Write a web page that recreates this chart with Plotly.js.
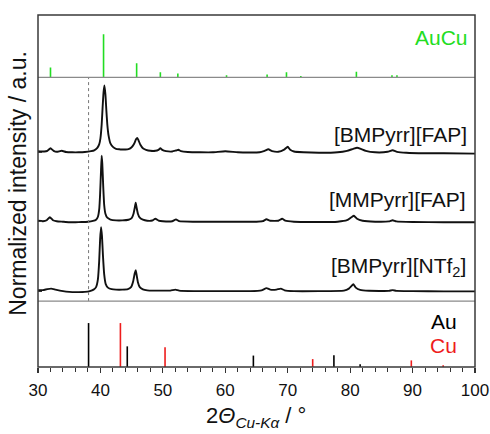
<!DOCTYPE html>
<html>
<head>
<meta charset="utf-8">
<script src="https://cdn.plot.ly/plotly-3.0.1.min.js"></script>
<style>html,body{margin:0;padding:0;background:#fff;}#chart{width:490px;height:434px;}</style>
</head>
<body>
<div id="chart"></div>
<script>
// ---------- reference patterns (stick positions, relative intensities) ----------
const aucuPos = [32.0, 40.5, 45.8, 49.6, 52.4, 60.2, 66.7, 69.8, 72.1, 81.0, 86.7, 87.5];
const aucuInt = [23, 100, 33, 12, 9, 5, 7, 12, 3, 13, 5, 5];
const auPos = [38.1, 44.3, 64.5, 77.4, 81.6];
const auInt = [100, 47, 26, 27, 6];
const cuPos = [43.2, 50.35, 74.0, 89.8, 94.9];
const cuInt = [100, 45, 18, 15, 4];

// ---------- measured patterns ----------
const sampleNames = ['[BMPyrr][FAP]', '[MMPyrr][FAP]', '[BMPyrr][NTf<sub>2</sub>]'];
const xTitle = '2<i>Θ</i><sub><i>Cu-Kα</i></sub> / °';
const yTitle = 'Normalized intensity / a.u.';

const tt_BFAP = [30.0,30.5,31.0,31.5,32.0,32.5,33.0,33.8,34.5,35.5,36.5,37.5,38.5,39.0,39.5,39.8,40.0,40.2,40.35,40.5,40.64,40.8,40.95,41.1,41.3,41.6,42.0,42.5,43.0,43.5,44.0,44.5,45.0,45.4,45.7,45.9,46.1,46.4,46.8,47.3,48.0,48.8,49.3,49.6,49.9,50.5,51.5,52.1,52.5,52.9,54,56,58,60,62,64,65.5,66.3,66.9,67.5,68.5,69.5,70.0,70.4,71.0,72.5,75,78,79.5,80.5,81.1,81.7,82.5,84,86.0,86.8,87.5,89,92,95,100];
const int_BFAP = [1.0,0.8,0.8,1.5,4.0,1.5,0.5,1.5,0.3,0,0,0.3,1.2,2.0,4.5,8,14,28,45,60,67,58,42,28,17,9,5.5,3.5,3,2.8,2.8,3.2,5,8.5,13,14.5,12,7.5,4,2.5,1.5,1.5,2.5,4,2.5,1.2,0.8,1.8,2.5,1.2,0.3,0,0,1,0,-0.2,0,1.5,3,1.2,0.5,3,5.5,2.5,0.8,0,-0.5,0,1.5,3.5,4.5,3.5,1.5,0,0.5,2,0.5,-0.5,-1,-1,-1.3];

const tt_MFAP = [30.0,30.8,31.4,31.9,32.4,33.0,34,35,36,37,38,38.8,39.3,39.6,39.8,39.95,40.1,40.2,40.3,40.45,40.6,40.8,41.1,41.6,42.5,43.5,44.5,45.0,45.3,45.5,45.65,45.8,46.0,46.3,46.8,47.5,48.3,48.8,49.3,50,51.5,52.1,52.6,55,60,65,66.0,66.6,67.2,68.5,69.1,69.6,71,74,78,79.5,80.2,80.6,81.1,82,84,86.2,86.8,87.4,90,95,100];
const int_MFAP = [1,0.5,1.5,4.5,1.5,0.5,0,-0.5,-0.5,-0.3,0,0.8,2,5,12,28,52,66,58,35,17,8,4,2.2,1.3,1.3,2,3.5,8,14,19,14,8,4,2,1,1.2,3,1.2,0.5,0.5,2.3,0.5,0,0,0,0.5,2.5,1,1,3,1,0,-0.3,0,1.5,4.5,6,3,1,0,0.3,1.5,0.3,-0.3,-0.5,-0.5];

const tt_BNTf2 = [30,30.8,31.5,32.1,32.8,33.5,34.5,35.5,36.5,37.5,38.3,38.9,39.3,39.6,39.8,39.95,40.1,40.25,40.4,40.6,40.85,41.2,41.8,42.5,43.5,44.4,44.9,45.25,45.5,45.65,45.8,46.0,46.3,46.8,47.5,48.5,49.5,51.2,52.0,52.6,55,60,64,65.8,66.6,67.2,68.2,68.9,69.5,71,75,79,79.8,80.2,80.5,80.9,81.6,83,86.2,86.8,87.4,90,95,100];
const int_BNTf2 = [1,1,2,2.5,1.5,0.5,-0.5,-1,-1,-0.8,0,1.5,4,12,30,52,64,55,36,17,7,3.5,2,1.5,1.5,2,4,10,18,21,16,9,4,1.8,0.8,0.5,0.5,0.5,1.5,0.5,0,0,0,0.8,3,1.5,1.5,2.5,0.8,0,0,0.5,2.5,5,7,3.5,1.2,0.3,0.2,1,0.2,0,-0.3,-0.3];

// vertical stacking offsets in the middle panel (layout, not data)
const stackOffset = [149, 79.5, 10];

// ---------- helpers ----------
function sticks(pos, inten) {
  const x = [], y = [];
  pos.forEach((p, i) => { x.push(p, p, null); y.push(0, inten[i], null); });
  return {x, y};
}
const FONT = 'Liberation Sans, Arial, Helvetica, sans-serif';
const GREEN = '#22dd22', RED = '#ee1c1c';

const sAuCu = sticks(aucuPos, aucuInt);
const sAu = sticks(auPos, auInt);
const sCu = sticks(cuPos, cuInt);

const patterns = [[tt_BFAP, int_BFAP], [tt_MFAP, int_MFAP], [tt_BNTf2, int_BNTf2]];

const traces = [
  {x: sAuCu.x, y: sAuCu.y, xaxis: 'x', yaxis: 'y', mode: 'lines', line: {color: GREEN, width: 1.6}, hoverinfo: 'skip', showlegend: false},
  {x: sAu.x, y: sAu.y, xaxis: 'x', yaxis: 'y3', mode: 'lines', line: {color: '#000', width: 1.6}, showlegend: false},
  {x: sCu.x, y: sCu.y, xaxis: 'x', yaxis: 'y3', mode: 'lines', line: {color: RED, width: 1.6}, showlegend: false}
];
patterns.forEach((p, i) => {
  traces.push({x: p[0], y: p[1].map(v => v + stackOffset[i]), xaxis: 'x', yaxis: 'y2',
    mode: 'lines', line: {color: '#111', width: 1.9, shape: 'spline', smoothing: 0.4}, name: sampleNames[i], showlegend: false});
});

const dTop = [0.8227, 1], dMid = [0.1872, 0.8227], dBot = [0, 0.1872];

const layout = {
  width: 490, height: 434,
  margin: {l: 37.5, r: 15, t: 14.5, b: 67},
  paper_bgcolor: '#fff', plot_bgcolor: '#fff',
  font: {family: FONT, color: '#000'},
  showlegend: false,
  xaxis: {
    domain: [0, 1], range: [30, 100], anchor: 'y3',
    showline: false, showgrid: false, zeroline: false,
    tick0: 30, dtick: 10, ticks: 'outside', ticklen: 5, tickwidth: 1.2, tickcolor: '#333',
    minor: {dtick: 2, ticks: 'outside', ticklen: 3.5, tickwidth: 1, tickcolor: '#333'},
    ticklabelstandoff: 3,
    tickfont: {size: 17, family: FONT, color: '#111'}
  },
  yaxis: {domain: dTop, range: [0, 145], anchor: 'x', showgrid: false, zeroline: false, showticklabels: false,
    tickvals: [0], ticks: 'inside', ticklen: 4, tickcolor: '#333'},
  yaxis2: {domain: dMid, range: [0, 224], anchor: 'x', showgrid: false, zeroline: false, showticklabels: false,
    tickvals: stackOffset, ticks: 'inside', ticklen: 4, tickcolor: '#333'},
  yaxis3: {domain: dBot, range: [0, 150], anchor: 'x', showgrid: false, zeroline: false, showticklabels: false,
    tickvals: [0], ticks: 'inside', ticklen: 4, tickcolor: '#333'},
  shapes: [
    {type: 'line', xref: 'x', yref: 'y2 domain', x0: auPos[0], x1: auPos[0], y0: 0, y1: 1,
      line: {color: '#777', width: 1, dash: 'dot'}},
    {type: 'line', xref: 'paper', yref: 'paper', x0: 0, x1: 1, y0: dTop[0], y1: dTop[0], line: {color: '#8a8a8a', width: 1.3}},
    {type: 'line', xref: 'paper', yref: 'paper', x0: 0, x1: 1, y0: dMid[0], y1: dMid[0], line: {color: '#8a8a8a', width: 1.3}},
    {type: 'rect', xref: 'paper', yref: 'paper', x0: 0, x1: 1, y0: 0, y1: 1, line: {color: '#3a3a3a', width: 1.5}}
  ],
  annotations: [
    {text: xTitle, xref: 'paper', yref: 'paper', x: 0.4994, y: -0.1872, xanchor: 'center', yanchor: 'bottom', showarrow: false, font: {size: 22, color: '#111', family: FONT}},
    {text: yTitle, textangle: -90, xref: 'paper', yref: 'paper', x: -0.0446, y: 0.522, xanchor: 'center', yanchor: 'middle', showarrow: false, font: {size: 23, color: '#111', family: FONT}},
    {text: 'AuCu', xref: 'paper', yref: 'paper', x: 0.9886, y: 0.936, xanchor: 'right', yanchor: 'middle', showarrow: false, font: {size: 21, color: GREEN, family: FONT}},
    {text: sampleNames[0], xref: 'paper', yref: 'paper', x: 0.9855, y: 0.661, xanchor: 'right', yanchor: 'middle', showarrow: false, font: {size: 21, color: '#111', family: FONT}},
    {text: sampleNames[1], xref: 'paper', yref: 'paper', x: 0.983, y: 0.4766, xanchor: 'right', yanchor: 'middle', showarrow: false, font: {size: 21, color: '#111', family: FONT}},
    {text: sampleNames[2], xref: 'paper', yref: 'paper', x: 0.983, y: 0.2837, xanchor: 'right', yanchor: 'middle', showarrow: false, font: {size: 21, color: '#111', family: FONT}},
    {text: 'Au', xref: 'paper', yref: 'paper', x: 0.9634, y: 0.1305, xanchor: 'right', yanchor: 'middle', showarrow: false, font: {size: 21, color: '#000', family: FONT}},
    {text: 'Cu', xref: 'paper', yref: 'paper', x: 0.9634, y: 0.0624, xanchor: 'right', yanchor: 'middle', showarrow: false, font: {size: 21, color: RED, family: FONT}}
  ]
};

Plotly.newPlot('chart', traces, layout, {staticPlot: true, displayModeBar: false});
</script>
</body>
</html>
